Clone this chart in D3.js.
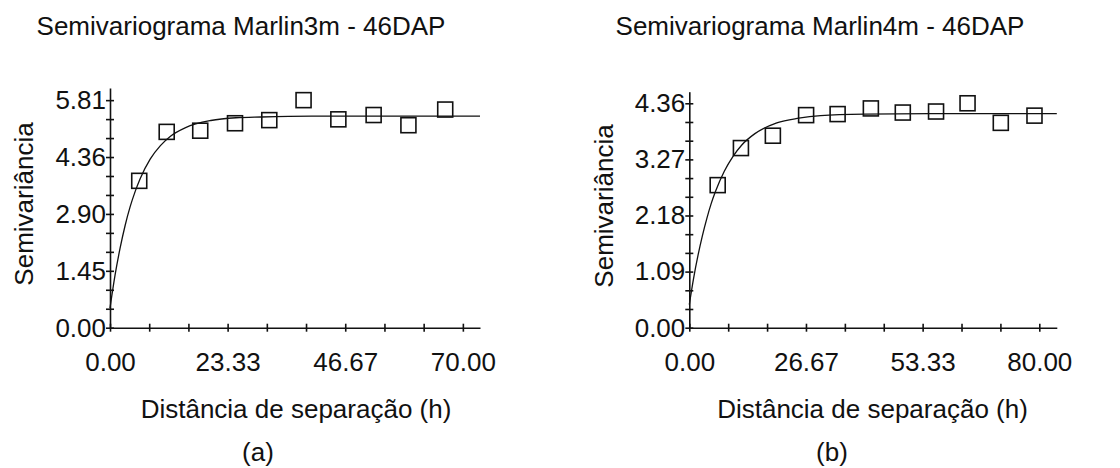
<!DOCTYPE html>
<html>
<head>
<meta charset="utf-8">
<script src="https://cdn.jsdelivr.net/npm/d3@7"></script>
<style>
  html, body { margin: 0; padding: 0; background: #fff; }
  svg { display: block; }
  text { font-family: "Liberation Sans", Arial, sans-serif; fill: #111; }
</style>
</head>
<body>
<svg id="chart" width="1120" height="468"></svg>
<script>
// ---------- Panel (a): Marlin3m ----------
const titleA = "Semivariograma Marlin3m - 46DAP";
const distA = [5.8, 11.25, 17.9, 24.8, 31.6, 38.4, 45.3, 52.3, 59.2, 66.5];
const gammaA = [3.75, 5.00, 5.03, 5.22, 5.30, 5.81, 5.32, 5.43, 5.17, 5.57];
const modelHA = [0, 1, 2, 3, 4, 5, 6, 8, 10, 12, 15, 20, 25, 30, 40, 55, 73.4];
const modelGA = [0.50, 1.34, 2.03, 2.61, 3.09, 3.48, 3.81, 4.31, 4.65, 4.89, 5.11, 5.29, 5.36, 5.38, 5.40, 5.40, 5.40];
const yTickLabelsA = ["0.00", "1.45", "2.90", "4.36", "5.81"];
const xTickLabelsA = ["0.00", "23.33", "46.67", "70.00"];

// ---------- Panel (b): Marlin4m ----------
const titleB = "Semivariograma Marlin4m - 46DAP";
const distB = [6.49, 11.8, 19.1, 26.7, 33.9, 41.5, 48.8, 56.4, 63.6, 71.2, 78.9];
const gammaB = [2.77, 3.49, 3.73, 4.13, 4.15, 4.26, 4.18, 4.20, 4.36, 3.98, 4.12];
const modelHB = [0, 1, 2, 3, 4, 5, 6, 8, 10, 12, 15, 20, 25, 30, 40, 55, 84];
const modelGB = [0.45, 0.97, 1.41, 1.79, 2.12, 2.41, 2.65, 3.04, 3.33, 3.55, 3.77, 3.98, 4.07, 4.12, 4.15, 4.16, 4.16];
const yTickLabelsB = ["0.00", "1.09", "2.18", "3.27", "4.36"];
const xTickLabelsB = ["0.00", "26.67", "53.33", "80.00"];

const xLabel = "Distância de separação (h)";
const yLabel = "Semivariância";

const svg = d3.select("#chart");
svg.append("rect").attr("width", 1120).attr("height", 468).attr("fill", "#fff");

function panel(cfg) {
  const g = svg.append("g");
  const x = d3.scaleLinear().domain([0, cfg.xEnd]).range([cfg.left, cfg.right]);
  const y = d3.scaleLinear().domain([0, cfg.yEnd]).range([cfg.bottom, cfg.top]);

  const xLabVals = cfg.xTickLabels.map(s => +s);
  const yLabVals = cfg.yTickLabels.map(s => +s);
  const xMinor = d3.range(10).map(i => i * xLabVals[3] / 9);
  const yMinor = d3.range(13).map(i => i * yLabVals[4] / 12);

  // x axis
  const gx = g.append("g").attr("transform", `translate(0,${cfg.bottom})`)
    .call(d3.axisBottom(x).tickValues(xMinor).tickSize(8).tickSizeOuter(0).tickFormat(""));
  gx.selectAll(".tick line").attr("y1", -4).attr("y2", 4);
  const gxl = g.append("g").attr("transform", `translate(0,${cfg.bottom})`)
    .call(d3.axisBottom(x).tickValues(xLabVals).tickSize(0).tickPadding(25)
      .tickFormat((d, i) => cfg.xTickLabels[i]));
  gxl.select(".domain").remove();
  gxl.selectAll("text").attr("font-size", 26).attr("font-family", "Liberation Sans, Arial, sans-serif");

  // y axis
  const gy = g.append("g").attr("transform", `translate(${cfg.left},0)`)
    .call(d3.axisLeft(y).tickValues(yMinor).tickSize(8).tickSizeOuter(0).tickFormat(""));
  gy.selectAll(".tick line").attr("x1", 4).attr("x2", -4);
  const gyl = g.append("g").attr("transform", `translate(${cfg.left},0)`)
    .call(d3.axisLeft(y).tickValues(yLabVals).tickSize(0).tickPadding(4)
      .tickFormat((d, i) => cfg.yTickLabels[i]));
  gyl.select(".domain").remove();
  gyl.selectAll("text").attr("font-size", 26).attr("font-family", "Liberation Sans, Arial, sans-serif");

  [gx, gy].forEach(a => {
    a.select(".domain").attr("stroke", "#111").attr("stroke-width", 1.6);
    a.selectAll(".tick line").attr("stroke", "#111").attr("stroke-width", 1.6);
  });

  // model curve
  const line = d3.line().x(d => x(d[0])).y(d => y(d[1])).curve(d3.curveMonotoneX);
  g.append("path")
    .datum(cfg.modelH.map((h, i) => [h, cfg.modelG[i]]))
    .attr("d", line).attr("fill", "none").attr("stroke", "#111").attr("stroke-width", 1.3);

  // experimental points
  const s = 15;
  g.selectAll("rect.pt").data(cfg.dist.map((h, i) => [h, cfg.gamma[i]])).enter()
    .append("rect").attr("class", "pt")
    .attr("x", d => x(d[0]) - s / 2).attr("y", d => y(d[1]) - s / 2)
    .attr("width", s).attr("height", s)
    .attr("fill", "none").attr("stroke", "#111").attr("stroke-width", 1.6);

  // texts
  g.append("text").attr("x", cfg.titleX).attr("y", 35).attr("text-anchor", "middle")
    .attr("font-size", 26).text(cfg.title);
  g.append("text").attr("x", cfg.xLabelX).attr("y", 418).attr("text-anchor", "middle")
    .attr("font-size", 26).text(xLabel);
  g.append("text").attr("transform", `translate(${cfg.yLabelX},${cfg.yLabelY}) rotate(-90)`)
    .attr("text-anchor", "middle").attr("font-size", 26).text(yLabel);
  g.append("text").attr("x", cfg.tagX).attr("y", 461).attr("text-anchor", "middle")
    .attr("font-size", 26).text(cfg.tag);
}

panel({
  title: titleA, tag: "(a)", dist: distA, gamma: gammaA, modelH: modelHA, modelG: modelGA,
  xTickLabels: xTickLabelsA, yTickLabels: yTickLabelsA,
  xEnd: 73.4, yEnd: 6.12, left: 110, right: 480, top: 88, bottom: 327.7,
  titleX: 241, xLabelX: 296, yLabelX: 33, yLabelY: 204, tagX: 258
});
panel({
  title: titleB, tag: "(b)", dist: distB, gamma: gammaB, modelH: modelHB, modelG: modelGB,
  xTickLabels: xTickLabelsB, yTickLabels: yTickLabelsB,
  xEnd: 84, yEnd: 4.585, left: 689.3, right: 1056.8, top: 91.7, bottom: 327.7,
  titleX: 820, xLabelX: 872.5, yLabelX: 613, yLabelY: 206, tagX: 832
});
</script>
</body>
</html>
